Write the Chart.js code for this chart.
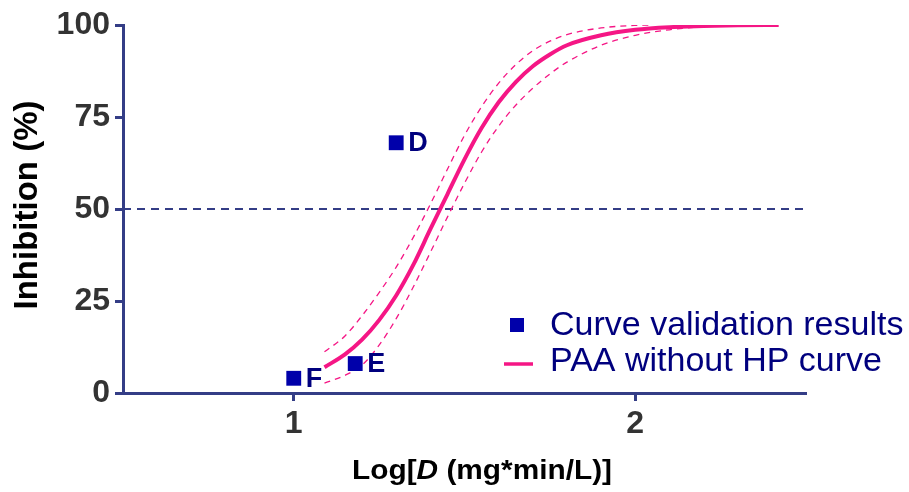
<!DOCTYPE html>
<html>
<head>
<meta charset="utf-8">
<script src="https://cdn.jsdelivr.net/npm/chart.js@4"></script>
<style>
  html, body { margin: 0; padding: 0; background: #ffffff; }
  #wrap { width: 909px; height: 492px; }
</style>
</head>
<body>
<div id="wrap"><canvas id="chart" width="909" height="492"></canvas></div>
<script>
// Validation measurements (log dose, % inhibition)
const validationLabels = ['D', 'E', 'F'];
const validationX = [1.30, 1.18, 1.00];
const validationY = [68, 8, 4];

// Fitted dose-response curve for PAA without HP
const curveX = [1.09, 1.15, 1.20, 1.25, 1.30, 1.35, 1.40, 1.45, 1.50, 1.55, 1.60, 1.65, 1.70, 1.75, 1.80, 1.90, 2.00, 2.10, 2.20, 2.30, 2.42];
const curveY = [7.0, 10.5, 14.5, 19.8, 26.5, 34.8, 44.5, 54.0, 63.5, 72.0, 79.0, 84.5, 88.8, 92.0, 94.5, 97.2, 98.7, 99.4, 99.7, 99.9, 100];

// Confidence band of the fit
const upperX = [1.09, 1.15, 1.20, 1.25, 1.30, 1.35, 1.40, 1.45, 1.50, 1.55, 1.60, 1.65, 1.70, 1.75, 1.80, 1.90, 2.00, 2.05];
const upperY = [11.2, 15.5, 21.0, 27.3, 34.2, 42.3, 51.3, 60.8, 70.0, 77.8, 84.2, 89.2, 93.0, 95.6, 97.4, 99.2, 99.9, 100];
const lowerX = [1.09, 1.15, 1.20, 1.25, 1.30, 1.35, 1.40, 1.45, 1.50, 1.55, 1.60, 1.65, 1.70, 1.75, 1.80, 1.90, 2.00, 2.10, 2.18];
const lowerY = [2.7, 4.8, 7.6, 13.0, 20.2, 28.8, 38.2, 47.8, 57.0, 65.5, 72.5, 78.2, 82.8, 86.7, 89.9, 94.5, 97.2, 98.7, 99.4];

// 50 % inhibition reference line
const refX = [0.5, 2.5];
const refY = [50, 50];

const xTicks = [1, 2];
const yTicks = [0, 25, 50, 75, 100];

const seriesNames = ['Curve validation results', 'PAA without HP curve'];

const NAVY_AXIS = '#343d86';
const POINT_BLUE = '#0000aa';
const TEXT_NAVY = '#00007e';
const PINK = '#f51685';
const FONT = "'Liberation Sans', Arial, Helvetica, sans-serif";

const pts = (xs, ys) => xs.map((x, i) => ({ x: x, y: ys[i] }));

// Letter tags next to the validation points
const pointTags = {
  id: 'pointTags',
  afterDatasetsDraw(chart) {
    const ctx = chart.ctx;
    const meta = chart.getDatasetMeta(0);
    ctx.save();
    ctx.font = 'bold 27px ' + FONT;
    ctx.fillStyle = TEXT_NAVY;
    ctx.textAlign = 'left';
    ctx.textBaseline = 'middle';
    meta.data.forEach((el, i) => {
      ctx.fillText(validationLabels[i], el.x + 12, el.y + 1);
    });
    ctx.restore();
  }
};

// Axis titles and the in-plot legend
const decorations = {
  id: 'decorations',
  afterDraw(chart) {
    const ctx = chart.ctx;
    ctx.save();

    // y title
    ctx.font = 'bold 33px ' + FONT;
    ctx.fillStyle = '#000000';
    ctx.textAlign = 'center';
    ctx.textBaseline = 'alphabetic';
    ctx.translate(37, 205);
    ctx.rotate(-Math.PI / 2);
    ctx.fillText('Inhibition (%)', 0, 0);
    ctx.setTransform(1, 0, 0, 1, 0, 0);

    // x title with italic D
    const parts = [
      { t: 'Log[', f: 'bold 27px ' + FONT },
      { t: 'D', f: 'italic bold 27px ' + FONT },
      { t: ' (mg*min/L)]', f: 'bold 27px ' + FONT }
    ];
    let total = 0;
    parts.forEach(p => { ctx.font = p.f; p.w = ctx.measureText(p.t).width; total += p.w; });
    const targetW = 260;
    const sx = targetW / total;
    ctx.translate(482 - targetW / 2, 479);
    ctx.scale(sx, 1);
    ctx.textAlign = 'left';
    let cx = 0;
    parts.forEach(p => { ctx.font = p.f; ctx.fillText(p.t, cx, 0); cx += p.w; });
    ctx.setTransform(1, 0, 0, 1, 0, 0);

    // legend
    ctx.fillStyle = POINT_BLUE;
    ctx.fillRect(510, 318, 14, 14);
    ctx.strokeStyle = PINK;
    ctx.lineWidth = 3.5;
    ctx.beginPath();
    ctx.moveTo(504, 364);
    ctx.lineTo(533, 364);
    ctx.stroke();
    ctx.font = '34px ' + FONT;
    ctx.fillStyle = TEXT_NAVY;
    ctx.textAlign = 'left';
    ctx.textBaseline = 'middle';
    ctx.fillText(seriesNames[0], 550, 326);
    ctx.fillText(seriesNames[1], 550, 362);

    ctx.restore();
  }
};

const tickFont = { family: FONT, size: 32, weight: 'bold' };

new Chart(document.getElementById('chart'), {
  type: 'scatter',
  data: {
    datasets: [
      {
        label: seriesNames[0],
        data: pts(validationX, validationY),
        pointStyle: 'rect',
        pointRadius: 10.5,
        pointHoverRadius: 10.5,
        backgroundColor: POINT_BLUE,
        borderColor: POINT_BLUE,
        borderWidth: 0,
        showLine: false
      },
      {
        label: seriesNames[1],
        data: pts(curveX, curveY),
        showLine: true,
        borderColor: PINK,
        borderWidth: 4,
        pointRadius: 0,
        cubicInterpolationMode: 'monotone',
        fill: false
      },
      {
        label: 'upper band',
        data: pts(upperX, upperY),
        showLine: true,
        borderColor: PINK,
        borderWidth: 1.3,
        borderDash: [6, 5],
        pointRadius: 0,
        cubicInterpolationMode: 'monotone',
        fill: false
      },
      {
        label: 'lower band',
        data: pts(lowerX, lowerY),
        showLine: true,
        borderColor: PINK,
        borderWidth: 1.3,
        borderDash: [6, 5],
        pointRadius: 0,
        cubicInterpolationMode: 'monotone',
        fill: false
      },
      {
        label: 'reference',
        data: pts(refX, refY),
        showLine: true,
        borderColor: NAVY_AXIS,
        borderWidth: 2,
        borderDash: [8, 6],
        pointRadius: 0,
        fill: false
      }
    ]
  },
  options: {
    responsive: false,
    animation: false,
    devicePixelRatio: 1,
    layout: { padding: { left: 0, top: 25, right: 103, bottom: 0 } },
    plugins: {
      legend: { display: false },
      tooltip: { enabled: false },
      title: { display: false }
    },
    scales: {
      x: {
        type: 'linear',
        min: 0.5,
        max: 2.5,
        afterBuildTicks: axis => { axis.ticks = xTicks.map(v => ({ value: v })); },
        afterFit: axis => { axis.height = 99; },
        ticks: { font: tickFont, color: '#333333', padding: 4, maxRotation: 0 },
        grid: { drawOnChartArea: false, drawTicks: true, tickLength: 8, tickWidth: 3, tickColor: NAVY_AXIS },
        border: { display: true, color: NAVY_AXIS, width: 3 }
      },
      y: {
        type: 'linear',
        min: 0,
        max: 100,
        afterBuildTicks: axis => { axis.ticks = yTicks.map(v => ({ value: v })); },
        afterFit: axis => { axis.width = 123; },
        ticks: { font: tickFont, color: '#333333', padding: 5 },
        grid: { drawOnChartArea: false, drawTicks: true, tickLength: 8, tickWidth: 3, tickColor: NAVY_AXIS },
        border: { display: true, color: NAVY_AXIS, width: 3 }
      }
    }
  },
  plugins: [pointTags, decorations]
});
</script>
</body>
</html>
